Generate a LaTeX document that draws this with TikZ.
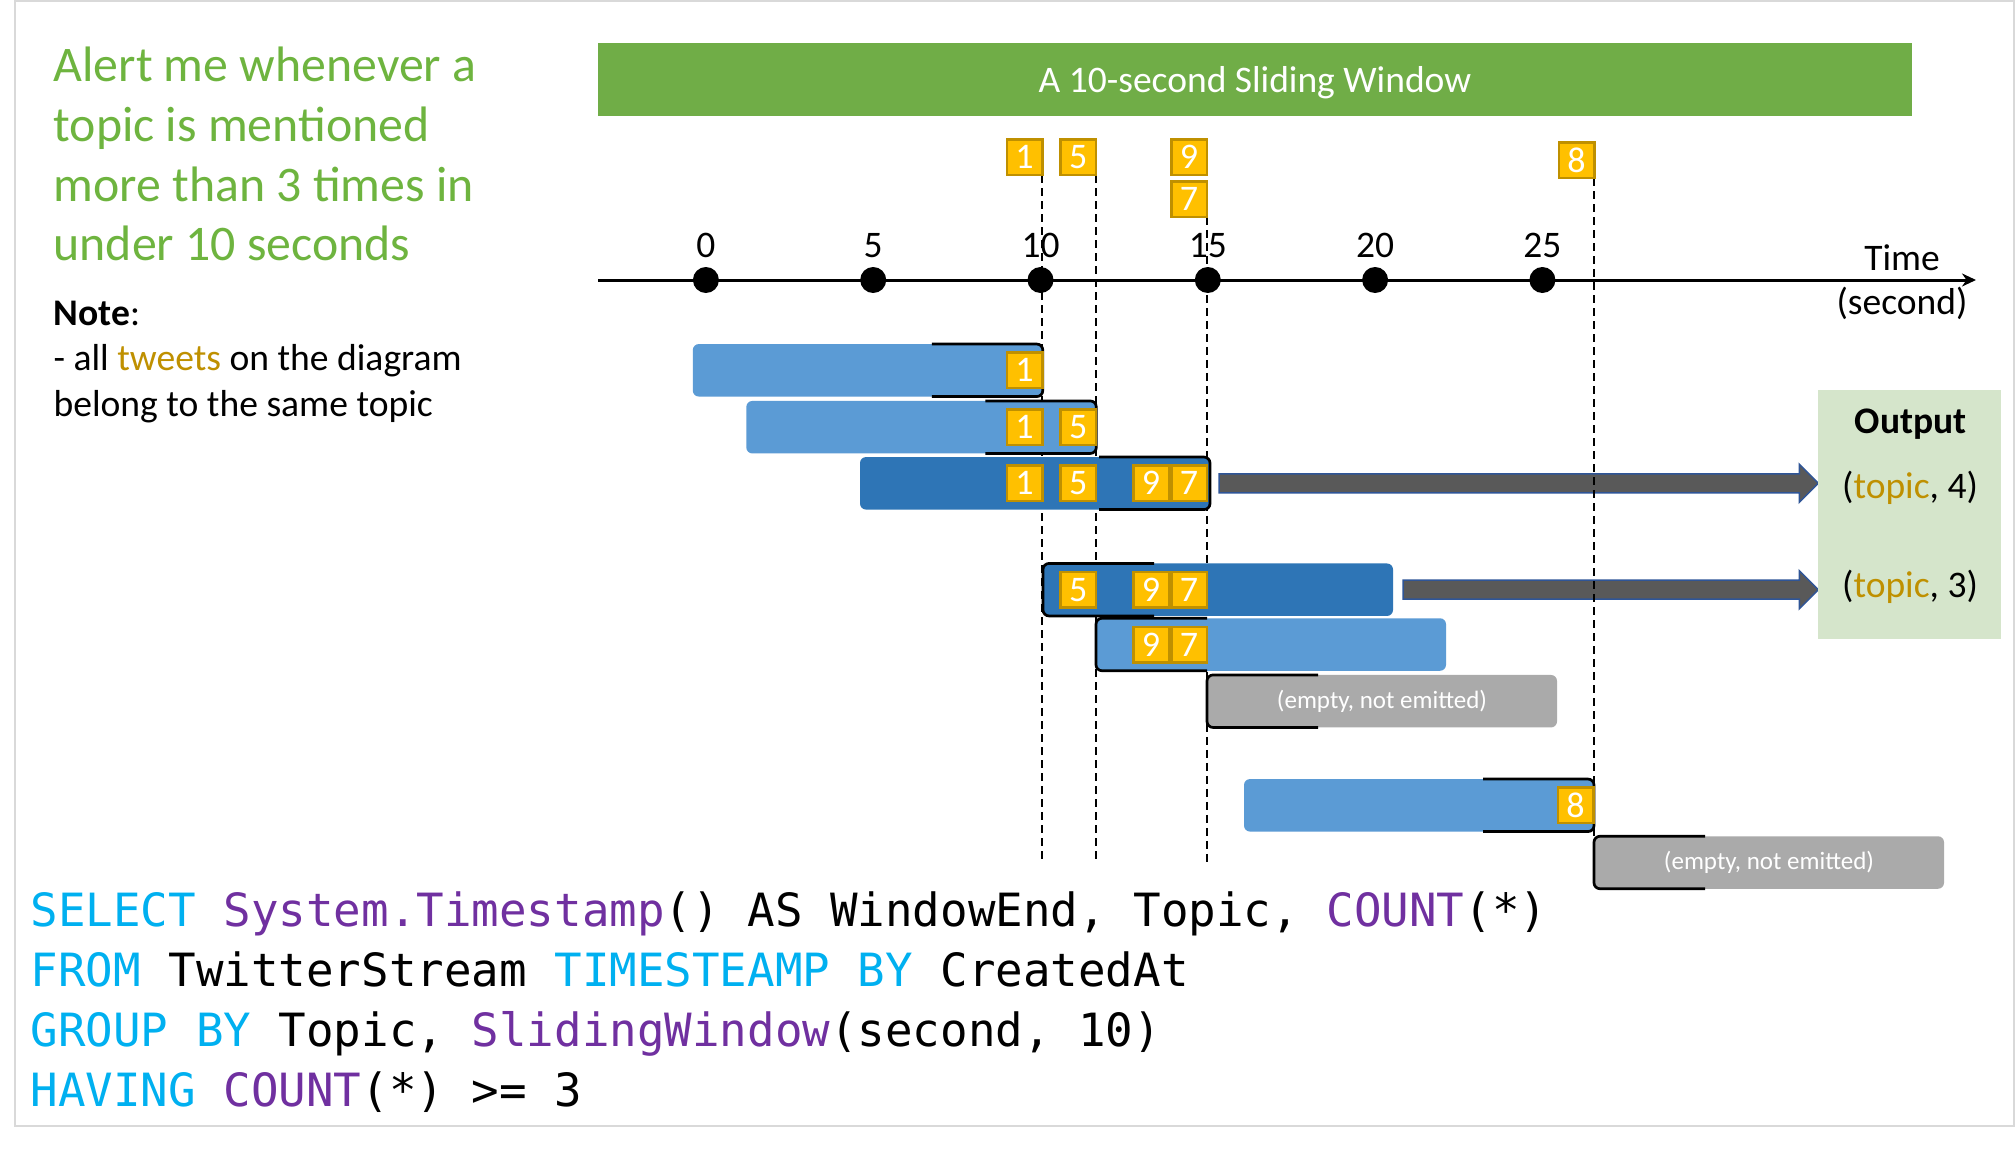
\documentclass[tikz,border=0pt]{standalone}
\usepackage{fontspec}
\setmainfont{Carlito}
\newfontfamily\codefont{DejaVu Sans Mono}
\usetikzlibrary{calc,arrows.meta}
\pgfdeclarelayer{back}
\pgfdeclarelayer{mid}
\pgfsetlayers{back,mid,main}
\definecolor{tgreen}{HTML}{70AD47}
\definecolor{txtgreen}{HTML}{6EB43F}
\definecolor{lblue}{HTML}{5B9BD5}
\definecolor{dblue}{HTML}{2E75B6}
\definecolor{tyellow}{HTML}{FFC000}
\definecolor{tgold}{HTML}{BF9000}
\definecolor{egray}{HTML}{AAAAAA}
\definecolor{outgreen}{HTML}{D5E5CB}
\definecolor{arrfill}{HTML}{595959}
\definecolor{arrline}{HTML}{2F5597}
\definecolor{kwblue}{HTML}{00B0F0}
\definecolor{fnpurple}{HTML}{7030A0}
\definecolor{framegray}{HTML}{D9D9D9}
\newcommand{\myfs}[1]{\fontsize{#1}{#1}\selectfont}
\newcommand{\blockarrow}[2]{\filldraw[arr] ($(#1)+(0,-9.5)$) -- ($(#2)+(-19,-9.5)$) -- ($(#2)+(-19,-19)$) -- (#2) -- ($(#2)+(-19,19)$) -- ($(#2)+(-19,9.5)$) -- ($(#1)+(0,9.5)$) -- cycle;}
\newcommand{\rbrk}[1]{\draw[brk] ($(#1.north east)+(-111,0)$) -- (#1.north east) -- (#1.south east) -- ($(#1.south east)+(-111,0)$);}
\newcommand{\lbrk}[1]{\draw[brk] ($(#1.north west)+(111,0)$) -- (#1.north west) -- (#1.south west) -- ($(#1.south west)+(111,0)$);}
\begin{document}
\begin{tikzpicture}[x=1pt,y=-1pt,
  every node/.style={inner sep=0pt,outer sep=0pt},
  gtxt/.style={anchor=base west,text=txtgreen,font=\myfs{49.8}},
  ntxt/.style={anchor=base west,text=black,font=\myfs{37.6}},
  tick/.style={anchor=base,font=\myfs{37.5}},
  otxt/.style={anchor=base,font=\myfs{37.5}},
  dot/.style={circle,fill=black,minimum size=26pt},
  tw/.style={draw=tgold,fill=tyellow,line width=2.5pt,minimum width=35.5pt,minimum height=35.5pt,text=white,font=\myfs{36}},
  bar/.style={rounded corners=6pt,minimum width=350pt,minimum height=52.5pt},
  etxt/.style={text=white,font=\myfs{25}},
  brk/.style={draw=black,line width=2.7pt,rounded corners=6pt},
  dline/.style={draw=black,line width=1.8pt,dash pattern=on 8pt off 5pt},
  arr/.style={fill=arrfill,draw=arrline,line width=1.5pt},
  code/.style={anchor=base west,font={\codefont\myfs{45.8}}}]
\useasboundingbox (0,0) rectangle (2016,1151);
\begin{pgfonlayer}{back}
\fill[white] (0,0) rectangle (2016,1151);
\end{pgfonlayer}
\draw[framegray,line width=2pt] (15,1) rectangle (2014,1126);

% title bar
\node[fill=tgreen,minimum width=1314pt,minimum height=73pt] (title) at (1255,79) {};
\node[text=white,font=\myfs{37.5}] (titletext) at (1255,83) {A 10-second Sliding Window};

% left text
\node[gtxt] (q1) at (53.6,81) {Alert me whenever a};
\node[gtxt] (q2) at (53.6,141) {topic is mentioned};
\node[gtxt] (q3) at (53.6,201) {more than 3 times in};
\node[gtxt] (q4) at (53.6,260) {under 10 seconds};
\node[ntxt] (n1) at (53.6,325) {\textbf{Note}:};
\node[ntxt] (n2) at (53.6,370.7) {- all \textcolor{tgold}{tweets} on the diagram};
\node[ntxt] (n3) at (53.6,416) {belong to the same topic};

% axis
\coordinate (ax0) at (598,280);
\coordinate (ax1) at (1976,280);
\draw[line width=3pt,-{Stealth[length=14pt,width=13pt]}] (ax0) -- (ax1);
\foreach \t in {0,5,10,15,20,25}{
  \node[dot] (k\t) at ({705.9+33.46*\t},280) {};
  \node[tick] (l\t) at ({705.9+33.46*\t},257) {\t};
}
\node[tick] (tm) at (1902,270) {Time};
\node[tick] (sec) at (1902,314) {(second)};

% arriving tweets
\node[tw] (a1) at (1024.5,157.3) {1};
\node[tw] (a5) at (1078.3,157.3) {5};
\node[tw] (a9) at (1189,157.3) {9};
\node[tw] (a7) at (1189,199.2) {7};
\node[tw] (a8) at (1576.5,160.3) {8};

% windows
\node[bar,fill=lblue] (b1) at (867.8,370.3) {};
\node[bar,fill=lblue] (b2) at (921.3,427.2) {};
\node[bar,fill=dblue] (b3) at (1035,483.3) {};
\node[bar,fill=dblue] (b4) at (1218,589.7) {};
\node[bar,fill=lblue] (b5) at (1271,644.5) {};
\node[bar,fill=egray,etxt] (b6) at (1382,701.2) {(empty, not emitted)};
\node[bar,fill=lblue] (b7) at (1419,805.3) {};
\node[bar,fill=egray,etxt] (b8) at (1769,862.5) {(empty, not emitted)};
\rbrk{b1}
\rbrk{b2}
\rbrk{b3}
\lbrk{b4}
\lbrk{b5}
\lbrk{b6}
\rbrk{b7}
\lbrk{b8}

% tweets inside windows
\node[tw] (w11) at (1024.5,370.3) {1};
\node[tw] (w21) at (1024.5,427.2) {1};
\node[tw] (w25) at (1078.3,427.2) {5};
\node[tw] (w31) at (1024.5,483.3) {1};
\node[tw] (w35) at (1078.3,483.3) {5};
\node[tw] (w39) at (1151,483.3) {9};
\node[tw] (w37) at (1189,483.3) {7};
\node[tw] (w45) at (1078.3,589.7) {5};
\node[tw] (w49) at (1151,589.7) {9};
\node[tw] (w47) at (1189,589.7) {7};
\node[tw] (w59) at (1151,644.5) {9};
\node[tw] (w57) at (1189,644.5) {7};
\node[tw] (w78) at (1575.5,805.3) {8};

% output box
\node[fill=outgreen,minimum width=182.7pt,minimum height=249.3pt] (out) at (1909.7,514.7) {};
\node[otxt] (ot) at (1910.7,433) {\textbf{Output}};
\node[otxt] (o4) at (1910,498) {(\textcolor{tgold}{topic}, 4)};
\node[otxt] (o3) at (1910,597) {(\textcolor{tgold}{topic}, 3)};

% dashed lines
\begin{pgfonlayer}{mid}
\coordinate (dend) at (0,862.7);
\draw[dline] (a1.south east) -- (a1.south east |- dend);
\draw[dline] (a5.south east) -- (a5.south east |- dend);
\draw[dline] (a7.south east) -- (a7.south east |- dend);
\draw[dline] (a8.south east) -- (a8.south east |- b8.north);
\end{pgfonlayer}

% output arrows
\begin{pgfonlayer}{back}
\coordinate (s1) at ($(b3.east)+(9,0)$);
\coordinate (e1) at (s1 -| out.west);
\coordinate (s2) at ($(b4.east)+(10,0)$);
\coordinate (e2) at (s2 -| out.west);
\blockarrow{s1}{e1}
\blockarrow{s2}{e2}
\end{pgfonlayer}

% query
\node[code] (c1) at (30.6,926.7) {\textcolor{kwblue}{SELECT} \textcolor{fnpurple}{System.Timestamp}() AS WindowEnd, Topic, \textcolor{fnpurple}{COUNT}(*)};
\node[code] (c2) at (30.6,986.7) {\textcolor{kwblue}{FROM} TwitterStream \textcolor{kwblue}{TIMESTEAMP BY} CreatedAt};
\node[code] (c3) at (30.6,1046.7) {\textcolor{kwblue}{GROUP BY} Topic, \textcolor{fnpurple}{SlidingWindow}(second, 10)};
\node[code] (c4) at (30.6,1106.7) {\textcolor{kwblue}{HAVING} \textcolor{fnpurple}{COUNT}(*) >= 3};
\end{tikzpicture}
\end{document}
